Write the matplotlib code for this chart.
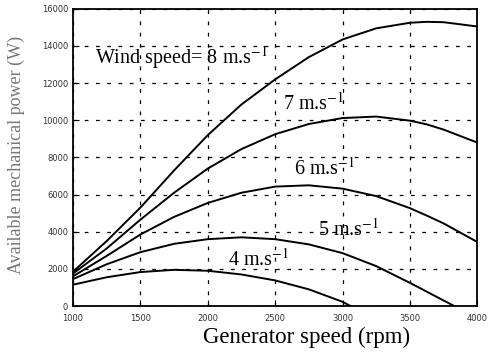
import numpy as np
import matplotlib.pyplot as plt

# generator speed (rpm) and available power (W) for each wind speed
rpm = [1000, 1250, 1500, 1750, 2000, 2250, 2500, 2750, 3000, 3250, 3500, 3625, 3750, 4000]
p8 = [1850, 3500, 5300, 7300, 9200, 10850, 12200, 13400, 14350, 14950, 15250, 15300, 15280, 15050]
p7 = [1750, 3100, 4650, 6100, 7400, 8450, 9250, 9800, 10120, 10200, 9980, 9780, 9500, 8800]
p6 = [1600, 2700, 3850, 4800, 5550, 6100, 6430, 6500, 6320, 5920, 5270, 4870, 4450, 3450]

rpm5 = [1000, 1250, 1500, 1750, 2000, 2250, 2500, 2750, 3000, 3250, 3500, 3750, 3830]
p5 = [1450, 2250, 2900, 3350, 3600, 3700, 3600, 3320, 2850, 2150, 1250, 300, 0]

rpm4 = [1000, 1250, 1500, 1750, 2000, 2250, 2500, 2750, 3000, 3060]
p4 = [1150, 1550, 1830, 1950, 1900, 1700, 1380, 900, 230, 0]

serif = ['Liberation Serif', 'DejaVu Serif']
plt.rcParams['mathtext.fontset'] = 'stix'

fig = plt.figure(figsize=(4.9, 3.53), dpi=100)
ax = fig.add_axes([0.149, 0.133, 0.825, 0.842])

for x, y in [(rpm, p8), (rpm, p7), (rpm, p6), (rpm5, p5), (rpm4, p4)]:
    ax.plot(x, y, color='black', lw=1.4)

ax.set_xlim(1000, 4000)
ax.set_ylim(0, 16000)
ax.set_xticks(np.arange(1000, 4001, 500))
ax.set_yticks(np.arange(0, 16001, 2000))
ax.grid(True, color='black', linestyle=(0, (3, 6)), linewidth=0.9)
ax.tick_params(direction='in', length=4, labelsize=6, labelcolor='#333333')
ax.tick_params(axis='x', pad=6)
for s in ax.spines.values():
    s.set_linewidth(1.3)

ax.set_xlabel('Generator speed (rpm)', family=serif, fontsize=16.5)
ax.xaxis.set_label_coords(0.577, -0.07)
ax.set_ylabel('Available mechanical power (W)', family=serif, fontsize=13,
              color='#777777')
ax.yaxis.set_label_coords(-0.118, 0.51)

kw = dict(family=serif, fontsize=14.5, va='center', ha='left')
ax.text(1160, 13400, 'Wind speed= 8 m.s$^{-1}$', **kw)
ax.text(2560, 10900, '7 m.s$^{-1}$', **kw)
ax.text(2640, 7400, '6 m.s$^{-1}$', **kw)
ax.text(2820, 4100, '5 m.s$^{-1}$', **kw)
ax.text(2150, 2500, '4 m.s$^{-1}$', **kw)

fig.savefig('out.png', dpi=100)
